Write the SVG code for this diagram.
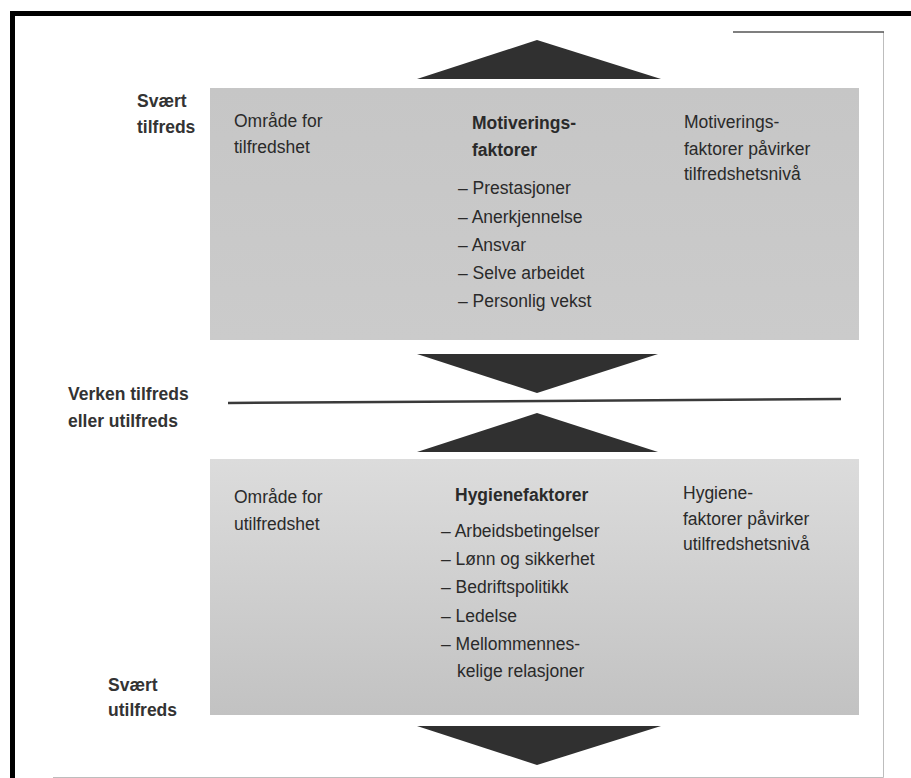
<svg xmlns="http://www.w3.org/2000/svg" width="911" height="778" viewBox="0 0 911 778">
  <defs>
    <linearGradient id="gTop" x1="0" y1="0" x2="0" y2="1">
      <stop offset="0" stop-color="#c6c6c6"/>
      <stop offset="1" stop-color="#cbcbcb"/>
    </linearGradient>
    <linearGradient id="gBot" x1="0" y1="0" x2="0" y2="1">
      <stop offset="0" stop-color="#dcdcdc"/>
      <stop offset="1" stop-color="#c2c2c2"/>
    </linearGradient>
    <style>
      text { font-family: "Liberation Sans", Arial, sans-serif; font-size: 17.5px; fill: #2a2a2a; }
      .b { font-weight: bold; }
      .side { font-weight: bold; fill: #333; }
      .tri { fill: #303030; }
      .frame { stroke: #000; stroke-width: 5; fill: none; }
      .page { stroke: #bdbdbd; stroke-width: 1; fill: none; }
    </style>
  </defs>
  <rect width="911" height="778" fill="#ffffff"/>

  <g id="frame">
    <path class="frame" d="M12.5 778 V13.5 H911"/>
    <path class="page" d="M883.5 32 V777.5 H53"/>
    <line x1="733" y1="32" x2="884" y2="32" stroke="#555" stroke-width="1.5"/>
  </g>

  <g id="zone-satisfied">
    <rect x="210" y="88" width="649" height="252" fill="url(#gTop)"/>
    <text x="234" y="127">Område for</text>
    <text x="234" y="153">tilfredshet</text>
    <text class="b" x="472" y="129">Motiverings-</text>
    <text class="b" x="472" y="156">faktorer</text>
    <text x="458" y="194">– Prestasjoner</text>
    <text x="458" y="223">– Anerkjennelse</text>
    <text x="458" y="251">– Ansvar</text>
    <text x="458" y="279">– Selve arbeidet</text>
    <text x="458" y="307">– Personlig vekst</text>
    <text x="684" y="128">Motiverings-</text>
    <text x="684" y="155">faktorer påvirker</text>
    <text x="684" y="180">tilfredshetsnivå</text>
  </g>

  <g id="zone-dissatisfied">
    <rect x="210" y="459" width="649" height="256" fill="url(#gBot)"/>
    <text x="234" y="503">Område for</text>
    <text x="234" y="530">utilfredshet</text>
    <text class="b" x="455" y="501">Hygienefaktorer</text>
    <text x="441" y="537">– Arbeidsbetingelser</text>
    <text x="441" y="565">– Lønn og sikkerhet</text>
    <text x="441" y="593">– Bedriftspolitikk</text>
    <text x="441" y="622">– Ledelse</text>
    <text x="441" y="650">– Mellommennes-</text>
    <text x="457" y="677">kelige relasjoner</text>
    <text x="683" y="499">Hygiene-</text>
    <text x="683" y="525">faktorer påvirker</text>
    <text x="683" y="550">utilfredshetsnivå</text>
  </g>

  <g id="scale-labels">
    <text class="side" x="137" y="107">Svært</text>
    <text class="side" x="137" y="133">tilfreds</text>
    <text class="side" x="68" y="400">Verken tilfreds</text>
    <text class="side" x="68" y="427">eller utilfreds</text>
    <text class="side" x="108" y="691">Svært</text>
    <text class="side" x="108" y="716">utilfreds</text>
  </g>

  <g id="connectors">
    <polygon class="tri" points="537,40 661,79 417,79"/>
    <polygon class="tri" points="417,354 658,354 537,393"/>
    <line x1="228" y1="403" x2="841" y2="399" stroke="#3a3a3a" stroke-width="2.5"/>
    <polygon class="tri" points="537,413 658,452 417,452"/>
    <polygon class="tri" points="417,726 661,726 537,765"/>
  </g>
</svg>
